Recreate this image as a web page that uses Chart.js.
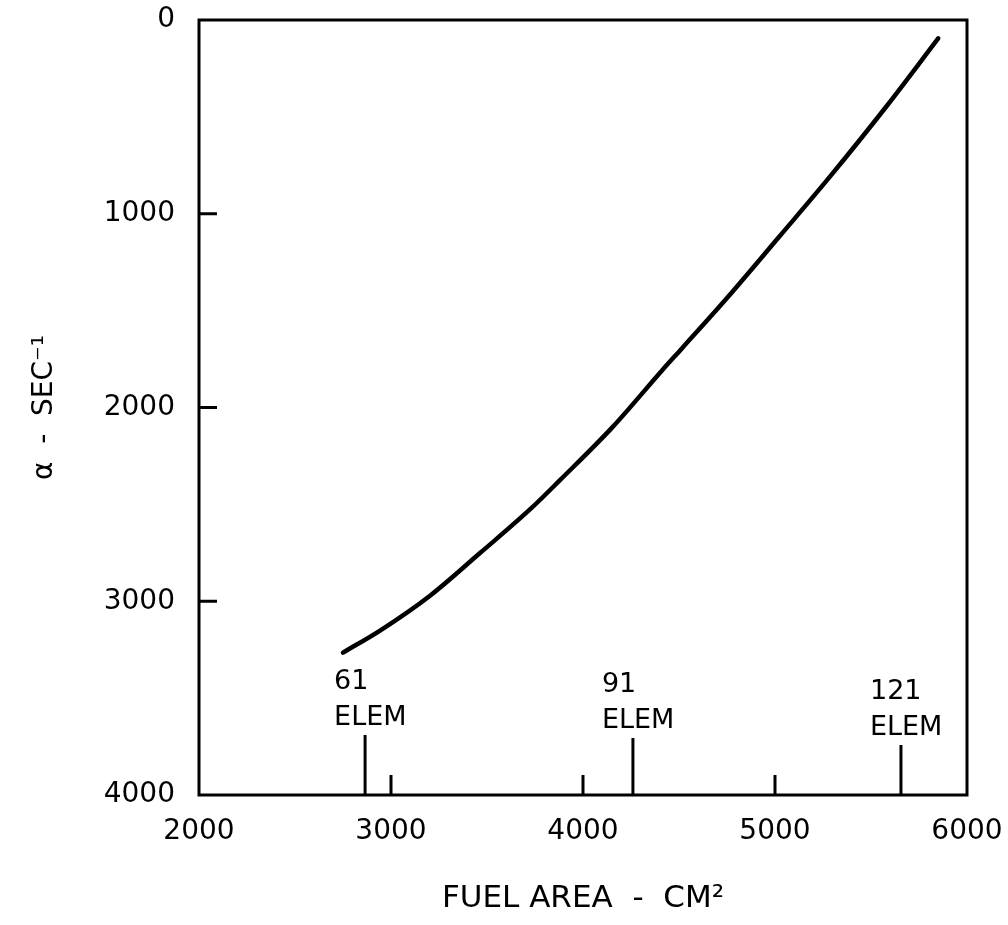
<!DOCTYPE html>
<html>
<head>
<meta charset="utf-8">
<script src="https://cdn.jsdelivr.net/npm/chart.js@4/dist/chart.umd.min.js"></script>
<style>
  html, body { margin: 0; padding: 0; background: #fff; }
  #wrap { width: 1008px; height: 925px; }
</style>
</head>
<body>
<div id="wrap"><canvas id="alpha-chart" width="1008" height="925"></canvas></div>
<script>
// ── Data ──
const fuelArea  = [2750, 2945, 3205, 3465, 3725, 3880, 4155, 4415, 4515, 4750, 5025, 5285, 5585, 5850];
const alphaVals = [3265, 3150, 2970, 2750, 2525, 2375, 2100, 1805, 1695, 1435, 1115, 810, 440, 95];

// element-count markers on the bottom axis
const elemArea  = [2865, 4260, 5656];
const elemTop   = [3690, 3706, 3742];
const elemCount = ['61', '91', '121'];

const xTicks = [2000, 3000, 4000, 5000, 6000];
const yTicks = [0, 1000, 2000, 3000, 4000];

const FONT = 'DejaVu Sans';

// ── Frame, inward ticks and marker labels ──
const framePlugin = {
  id: 'frame',
  afterDraw(chart) {
    const { ctx, chartArea: a, scales } = chart;
    ctx.save();
    ctx.strokeStyle = '#000';
    ctx.lineWidth = 3;
    ctx.strokeRect(a.left, a.top, a.right - a.left, a.bottom - a.top);

    ctx.beginPath();
    xTicks.slice(1, -1).forEach(v => {
      const px = scales.x.getPixelForValue(v);
      ctx.moveTo(px, a.bottom);
      ctx.lineTo(px, a.bottom - 20);
    });
    yTicks.slice(1, -1).forEach(v => {
      const py = scales.y.getPixelForValue(v);
      ctx.moveTo(a.left, py);
      ctx.lineTo(a.left + 18, py);
    });
    ctx.stroke();

    ctx.fillStyle = '#000';
    ctx.font = `27px "${FONT}"`;
    ctx.textAlign = 'left';
    ctx.textBaseline = 'alphabetic';
    elemArea.forEach((v, i) => {
      const px = scales.x.getPixelForValue(v) - 31;
      const py = scales.y.getPixelForValue(elemTop[i]);
      ctx.fillText(elemCount[i], px, py - 46);
      ctx.fillText('ELEM', px, py - 10);
    });
    ctx.restore();
  }
};

const curve = fuelArea.map((x, i) => ({ x, y: alphaVals[i] }));
const markers = elemArea.map((x, i) => ({
  data: [{ x, y: 4000 }, { x, y: elemTop[i] }],
  borderColor: '#000',
  borderWidth: 3,
  pointRadius: 0,
  borderCapStyle: 'butt',
}));

new Chart(document.getElementById('alpha-chart'), {
  type: 'line',
  data: {
    datasets: [{
      data: curve,
      borderColor: '#000',
      borderWidth: 4.5,
      pointRadius: 0,
      cubicInterpolationMode: 'monotone',
      borderCapStyle: 'round',
      fill: false,
    }, ...markers]
  },
  options: {
    responsive: false,
    animation: false,
    layout: { padding: { top: 20, right: 41, left: 0, bottom: 0 } },
    plugins: { legend: { display: false }, tooltip: { enabled: false } },
    scales: {
      x: {
        type: 'linear', min: 2000, max: 6000,
        afterBuildTicks: s => { s.ticks = xTicks.map(v => ({ value: v })); },
        afterFit: s => { s.height = 130; s.paddingLeft = 0; s.paddingRight = 0; },
        grid: { display: false },
        border: { display: false },
        ticks: { color: '#000', font: { family: FONT, size: 28 }, padding: 12, maxRotation: 0, callback: v => String(v) },
        title: {
          display: true, text: 'FUEL AREA  -  CM²', color: '#000',
          font: { family: FONT, size: 31 }, padding: { top: 0, bottom: 7 }
        }
      },
      y: {
        type: 'linear', min: 0, max: 4000, reverse: true,
        afterBuildTicks: s => { s.ticks = yTicks.map(v => ({ value: v })); },
        afterFit: s => { s.width = 199; s.paddingTop = 0; s.paddingBottom = 0; },
        grid: { display: false },
        border: { display: false },
        ticks: { color: '#000', font: { family: FONT, size: 28 }, padding: 16, callback: v => String(v) },
        title: {
          display: true, text: 'α  -  SEC⁻¹', color: '#000',
          font: { family: FONT, size: 28 }, padding: { top: 28, bottom: 0 }
        }
      }
    }
  },
  plugins: [framePlugin]
});
</script>
</body>
</html>
